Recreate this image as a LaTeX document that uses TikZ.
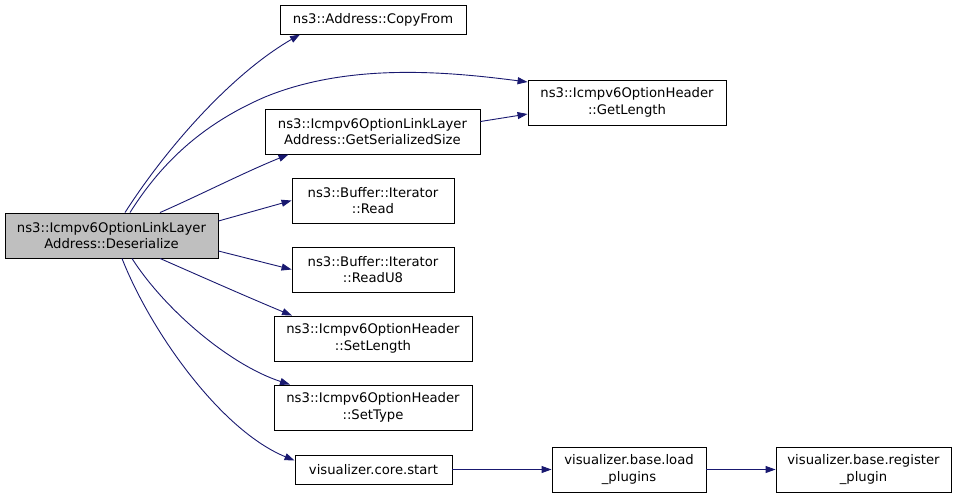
\documentclass[tikz,border=0pt]{standalone}
\usepackage{fontspec}
\setmainfont{DejaVu Sans}
\usetikzlibrary{arrows.meta}
\definecolor{edgeblue}{HTML}{191970}
\definecolor{curgray}{HTML}{BFBFBF}
\begin{document}
\begin{tikzpicture}[x=1pt,y=-1pt,
  fn/.style={draw=black,line width=0.9pt,fill=white,inner sep=0pt,align=center,
    font=\fontsize{13.2}{16.5}\selectfont},
  cur/.style={fn,fill=curgray},
  call/.style={draw=edgeblue,line width=0.9pt,-{Triangle[length=10pt,width=7pt]}}]
\useasboundingbox (0,0) rectangle (957,499);
\node[cur,minimum width=213pt,minimum height=45pt] (des) at (111.5,235.5) {ns3::Icmpv6OptionLinkLayer\\Address::Deserialize};
\node[fn,minimum width=186pt,minimum height=29pt] (cf) at (373,19.5) {ns3::Address::CopyFrom};
\node[fn,minimum width=198pt,minimum height=45pt] (gl) at (627,102.5) {ns3::Icmpv6OptionHeader\\::GetLength};
\node[fn,minimum width=215pt,minimum height=45pt] (gss) at (372.5,131.5) {ns3::Icmpv6OptionLinkLayer\\Address::GetSerializedSize};
\node[fn,minimum width=162pt,minimum height=45pt] (rd) at (373,200.5) {ns3::Buffer::Iterator\\::Read};
\node[fn,minimum width=162pt,minimum height=45pt] (ru) at (373,269.5) {ns3::Buffer::Iterator\\::ReadU8};
\node[fn,minimum width=198pt,minimum height=45pt] (sl) at (373,338.5) {ns3::Icmpv6OptionHeader\\::SetLength};
\node[fn,minimum width=198pt,minimum height=45pt] (stp) at (373,407.5) {ns3::Icmpv6OptionHeader\\::SetType};
\node[fn,minimum width=157pt,minimum height=29pt] (cs) at (373.5,469.5) {visualizer.core.start};
\node[fn,minimum width=154pt,minimum height=45pt] (lp) at (629,469.5) {visualizer.base.load\\\_plugins};
\node[fn,minimum width=175pt,minimum height=45pt] (rp) at (863.5,469.5) {visualizer.base.register\\\_plugin};
% edges
\draw[call] ([xshift=13.5pt]des.north) .. controls (165,150) and (230,75) .. ([xshift=-73pt]cf.south);
\draw[call] ([xshift=18.5pt]des.north) .. controls (160,165) and (200,125) .. (265,97) .. controls (350,62) and (450,72) .. ([yshift=20.5pt]gl.west);
\draw[call] ([xshift=48.5pt]des.north) .. controls (200,195) and (245,172) .. ([xshift=-84pt]gss.south);
\draw[call] ([yshift=14.5pt]des.east) -- (rd.west);
\draw[call] ([yshift=-15.5pt]des.east) -- (ru.west);
\draw[call] ([xshift=48.5pt]des.south) .. controls (200,276) and (245,296) .. ([xshift=-81pt]sl.north);
\draw[call] ([xshift=20.5pt]des.south) .. controls (165,310) and (230,365) .. ([xshift=-83pt]stp.north);
\draw[call] ([xshift=10.5pt]des.south) .. controls (150,330) and (220,430) .. ([yshift=9pt]cs.west);
\draw[call] ([yshift=10pt]gss.east) -- ([yshift=-11.5pt]gl.west);
\draw[call] (cs) -- (lp);
\draw[call] (lp) -- (rp);
\end{tikzpicture}
\end{document}
